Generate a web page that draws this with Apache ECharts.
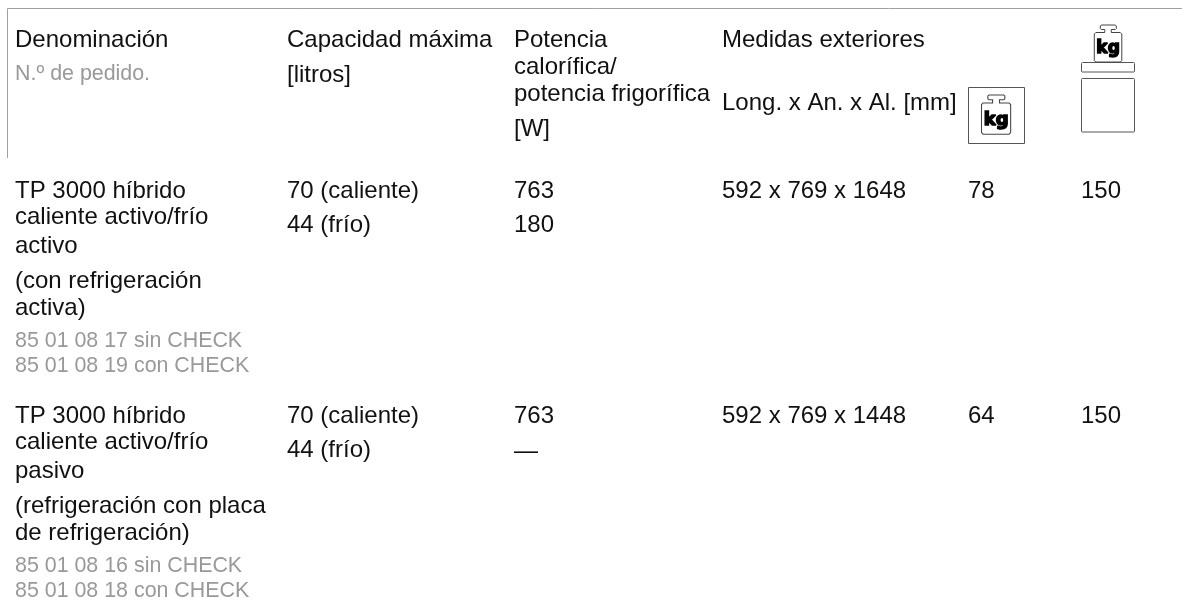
<!DOCTYPE html>
<html><head><meta charset="utf-8">
<style>html,body{margin:0;padding:0;background:#fff}#c{width:1182px;height:602px}</style>
<script src="https://cdn.jsdelivr.net/npm/echarts@6/dist/echarts.min.js"></script>
</head><body><div id="c"></div>
<script>
const headerDenominacion = ["Denominación"];
const headerPedido = ["N.º de pedido."];
const headerCapacidad = ["Capacidad máxima", "[litros]"];
const headerPotencia = ["Potencia", "calorífica/", "potencia frigorífica", "[W]"];
const headerMedidas = ["Medidas exteriores", "Long. x An. x Al. [mm]"];
const weightUnit = "kg";
const row1Name = ["TP 3000 híbrido", "caliente activo/frío", "activo", "(con refrigeración", "activa)"];
const row1Orders = ["85 01 08 17 sin CHECK", "85 01 08 19 con CHECK"];
const row1Capacity = ["70 (caliente)", "44 (frío)"];
const row1Power = ["763", "180"];
const row1Size = "592 x 769 x 1648";
const row1Weight = "78";
const row1Load = "150";
const row2Name = ["TP 3000 híbrido", "caliente activo/frío", "pasivo", "(refrigeración con placa", "de refrigeración)"];
const row2Orders = ["85 01 08 16 sin CHECK", "85 01 08 18 con CHECK"];
const row2Capacity = ["70 (caliente)", "44 (frío)"];
const row2Power = ["763", "—"];
const row2Size = "592 x 769 x 1448";
const row2Weight = "64";
const row2Load = "150";

const FONT = '"Liberation Sans", Arial, sans-serif';
const SIZE = 24, SMALL = 21.4, INK = '#111111', GREY = '#999999', LINE = '#a0a0a0';
function t(x, base, s, size, fill) {
  const sz = size||SIZE;
  return {type:'text', x, y:base-0.24*sz, silent:true, style:{text:s, fill:fill||INK, font:`${sz}px ${FONT}`, textVerticalAlign:'middle', textBaseline:'middle'}};
}
function col(x, ys, arr, size, fill) { return arr.map((s,i)=>t(x, ys[i], s, size, fill)); }
function line(x1,y1,x2,y2,c,w){return {type:'line',silent:true,shape:{x1,y1,x2,y2},style:{stroke:c||LINE,lineWidth:w||1}};}
function box(x,y,w,h,r){return {type:'rect',silent:true,shape:{x,y,width:w,height:h,r:r||0},style:{fill:'#fff',stroke:'#555',lineWidth:1}};}
function weight(x,y,s){
  const pts=[[7,0],[21,0],[22,1],[22,3.5],[21,4.5],[17,4.5],[17,7.5],[26,7.5],[27.5,9],[27.5,35.5],[26,37],[1.5,37],[0,35.5],[0,9],[1.5,7.5],[10.5,7.5],[10.5,4.5],[7,4.5],[6,3.5],[6,1]];
  return {type:'group',x,y,scaleX:s,scaleY:s,silent:true,children:[
    {type:'polygon',shape:{points:pts},style:{fill:'#fff',stroke:'#444',lineWidth:1}},
    {type:'text',x:13.8,y:23.5,style:{text:weightUnit,fill:'#000',stroke:'#000',lineWidth:1.5,font:`bold 17px "DejaVu Sans", sans-serif`,textAlign:'center',textVerticalAlign:'middle',textBaseline:'middle'}}
  ]};
}
const elements = [
  line(7.5,8.5,1182,8.5), line(7.5,8.5,7.5,158),
  ...col(15,[45.7],headerDenominacion),
  ...col(15,[79.3],headerPedido,SMALL,GREY),
  ...col(287,[45.7,81],headerCapacidad),
  ...col(514,[45.7,73.5,99.8,135.5],headerPotencia),
  ...col(722,[45.7,109],headerMedidas),
  box(968.5,87.5,56,56), weight(981.5,95,1.06),
  box(1081.5,62.5,53,9.5,1), box(1081.5,78.5,53,53.5,1), weight(1094.3,25,1),
  ...col(15,[197,223.3,252.5,286.7,314],row1Name),
  ...col(15,[346,371.3],row1Orders,SMALL,GREY),
  ...col(287,[197,231],row1Capacity),
  ...col(514,[197,231],row1Power),
  t(722,197,row1Size), t(968,197,row1Weight), t(1081,197,row1Load),
  ...col(15,[421.7,448.3,476.7,511.7,539],row2Name),
  ...col(15,[571.7,596.7],row2Orders,SMALL,GREY),
  ...col(287,[421.7,456],row2Capacity),
  ...col(514,[421.7,457.3],row2Power),
  t(722,421.7,row2Size), t(968,421.7,row2Weight), t(1081,421.7,row2Load)
];
const chart = echarts.init(document.getElementById('c'), null, {renderer:'canvas'});
chart.setOption({animation:false, backgroundColor:'#fff', graphic:{elements}});
</script></body></html>
